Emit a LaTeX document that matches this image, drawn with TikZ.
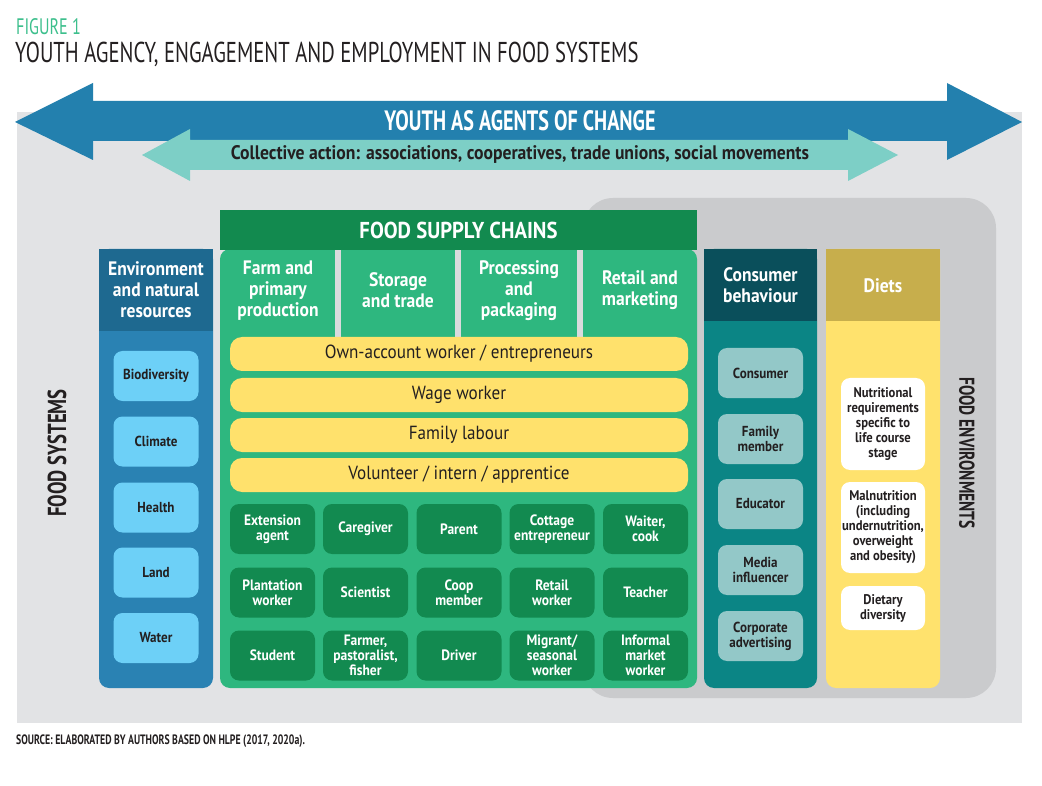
\documentclass[tikz,border=0pt]{standalone}
\usepackage{fontspec}
\setmainfont{PT Sans}[FakeStretch=0.72]
\newfontfamily\wide{PT Sans}[FakeStretch=0.9]
\definecolor{bggrey}{HTML}{E2E3E5}
\definecolor{fegrey}{HTML}{CACBCD}
\definecolor{bigblue}{HTML}{2380AE}
\definecolor{lteal}{HTML}{7DCFC6}
\definecolor{envhead}{HTML}{1E6990}
\definecolor{envbody}{HTML}{2A82B3}
\definecolor{envitem}{HTML}{6DD0F7}
\definecolor{fschead}{HTML}{128A4F}
\definecolor{fscbody}{HTML}{2EB77F}
\definecolor{rolebox}{HTML}{128A50}
\definecolor{ybar}{HTML}{FFE16C}
\definecolor{conshead}{HTML}{0A4F5B}
\definecolor{consbody}{HTML}{0B8585}
\definecolor{consitem}{HTML}{93C8C8}
\definecolor{dietshead}{HTML}{C7AE4C}
\definecolor{dietsbody}{HTML}{FFE26D}
\definecolor{titlegreen}{HTML}{3CBF8C}
\definecolor{ink}{HTML}{231F20}
\definecolor{sepgrey}{HTML}{DADBDD}
\tikzset{
  lbl/.style={inner sep=0pt, align=center, text=ink},
  headtxt/.style={inner sep=0pt, align=center, text=white, font=\wide\bfseries\fontsize{19.5}{21}\selectfont},
  itembox/.style={inner sep=0pt, align=center, rounded corners=9pt, minimum width=85pt, minimum height=50pt, font=\wide\bfseries\fontsize{14.5}{15}\selectfont},
  envbox/.style={itembox, fill=envitem, text=ink},
  consbox/.style={itembox, fill=consitem, text=ink},
  rolebx/.style={itembox, fill=rolebox, text=white, font=\wide\bfseries\fontsize{15}{15}\selectfont},
  dietbox/.style={itembox, fill=white, text=ink, minimum width=84pt, font=\wide\bfseries\fontsize{14}{15}\selectfont},
  barbox/.style={inner sep=0pt, align=center, rounded corners=12pt, fill=ybar, text=ink, minimum width=458pt, minimum height=34pt, font=\wide\fontsize{19}{20}\selectfont},
}
\begin{document}
\begin{tikzpicture}[x=1pt,y=-1pt]
\useasboundingbox (0,0) rectangle (1042,786);
\fill[white] (0,0) rectangle (1042,786);
% titles
\node[lbl, anchor=west, text=titlegreen, font=\fontsize{22.4}{22}\selectfont] (fig) at (16,27) {FIGURE 1};
\node[lbl, anchor=west, font=\fontsize{28.7}{29}\selectfont] (title) at (15,54) {YOUTH AGENCY, ENGAGEMENT AND EMPLOYMENT IN FOOD SYSTEMS};
% background
\fill[bggrey] (17,112) rectangle (1022,723);
\fill[fegrey, rounded corners=30pt] (583,198) rectangle (996,698);
% big arrow
\fill[bigblue] (15,122) -- (93,83) -- (93,101) -- (947,101) -- (947,83) -- (1022,122) -- (947,160) -- (947,141) -- (93,141) -- (93,160) -- cycle;
\node[lbl, text=white, font=\bfseries\fontsize{28}{28}\selectfont] (youth) at (520,121) {YOUTH AS AGENTS OF CHANGE};
% teal arrow
\fill[lteal] (142,155) -- (190,129) -- (190,140) -- (848,140) -- (848,129) -- (898,155) -- (848,181) -- (848,170) -- (190,170) -- (190,181) -- cycle;
\node[lbl, font=\wide\bfseries\fontsize{19.6}{20}\selectfont] (coll) at (520,154) {Collective action: associations, cooperatives, trade unions, social movements};
% side labels
\node[lbl, rotate=90, font=\bfseries\fontsize{26}{26}\selectfont] (fs) at (57,453) {FOOD SYSTEMS};
\node[lbl, rotate=-90, font=\bfseries\fontsize{21.5}{22}\selectfont] (fe) at (967,453) {FOOD ENVIRONMENTS};
% environment column
\fill[envbody, rounded corners=10pt] (99,249) rectangle (213,688);
\fill[envhead] (99,249) rectangle (213,331);
\node[headtxt] (envh) at (156,290) {Environment\\and natural\\resources};
\node[envbox] (bio) at (156,376) {Biodiversity};
\node[envbox] (cli) at (156,441.5) {Climate};
\node[envbox] (hea) at (156,507.5) {Health};
\node[envbox] (lan) at (156,572.5) {Land};
\node[envbox] (wat) at (156,638) {Water};
% food supply chains
\fill[fscbody, rounded corners=10pt] (220,249) rectangle (697,688);
\fill[fschead] (220,210) rectangle (697,250);
\node[headtxt, font=\wide\bfseries\fontsize{23}{24}\selectfont] (fsc) at (458.5,230) {FOOD SUPPLY CHAINS};
\fill[sepgrey] (335,250) rectangle (341,337);
\fill[sepgrey] (455,250) rectangle (461,337);
\fill[sepgrey] (577,250) rectangle (583,337);
\node[headtxt] (farm) at (278,291) {Farm and\\primary\\production};
\node[headtxt] (stor) at (398,290) {Storage\\and trade};
\node[headtxt] (proc) at (519,291) {Processing\\and\\packaging};
\node[headtxt] (reta) at (640,290) {Retail and\\marketing};
\node[barbox] (own) at (459,354) {Own-account worker / entrepreneurs};
\node[barbox] (wage) at (459,395) {Wage worker};
\node[barbox] (fam) at (459,435) {Family labour};
\node[barbox] (vol) at (459,475) {Volunteer / intern / apprentice};
\node[rolebx] (r11) at (272.5,529) {Extension\\agent};
\node[rolebx] (r12) at (365.5,529) {Caregiver};
\node[rolebx] (r13) at (459,529) {Parent};
\node[rolebx] (r14) at (552,529) {Cottage\\entrepreneur};
\node[rolebx] (r15) at (645.5,529) {Waiter,\\cook};
\node[rolebx] (r21) at (272.5,592.5) {Plantation\\worker};
\node[rolebx] (r22) at (365.5,592.5) {Scientist};
\node[rolebx] (r23) at (459,592.5) {Coop\\member};
\node[rolebx] (r24) at (552,592.5) {Retail\\worker};
\node[rolebx] (r25) at (645.5,592.5) {Teacher};
\node[rolebx] (r31) at (272.5,655.5) {Student};
\node[rolebx] (r32) at (365.5,655.5) {Farmer,\\pastoralist,\\fisher};
\node[rolebx] (r33) at (459,655.5) {Driver};
\node[rolebx] (r34) at (552,655.5) {Migrant/\\seasonal\\worker};
\node[rolebx] (r35) at (645.5,655.5) {Informal\\market\\worker};
% consumer behaviour
\fill[consbody, rounded corners=10pt] (704,249) rectangle (817,688);
\fill[conshead] (704,249) rectangle (817,321);
\node[headtxt] (consh) at (760.5,285) {Consumer\\behaviour};
\node[consbox] (c1) at (760.5,373) {Consumer};
\node[consbox] (c2) at (760.5,439) {Family\\member};
\node[consbox] (c3) at (760.5,504) {Educator};
\node[consbox] (c4) at (760.5,570) {Media\\influencer};
\node[consbox] (c5) at (760.5,636) {Corporate\\advertising};
% diets
\fill[dietsbody, rounded corners=10pt] (826,249) rectangle (940,688);
\fill[dietshead] (826,249) rectangle (940,321);
\node[headtxt] (dieth) at (883,286) {Diets};
\node[dietbox, minimum height=92pt] (d1) at (883,424) {Nutritional\\requirements\\specific to\\life course\\stage};
\node[dietbox, minimum height=91pt] (d2) at (883,527.5) {Malnutrition\\(including\\undernutrition,\\overweight\\and obesity)};
\node[dietbox, minimum height=44pt] (d3) at (883,608) {Dietary\\diversity};
% source
\node[lbl, anchor=west, font=\bfseries\fontsize{13.6}{14}\selectfont] (src) at (16,741) {SOURCE: ELABORATED BY AUTHORS BASED ON HLPE (2017, 2020a).};
\end{tikzpicture}
\end{document}
